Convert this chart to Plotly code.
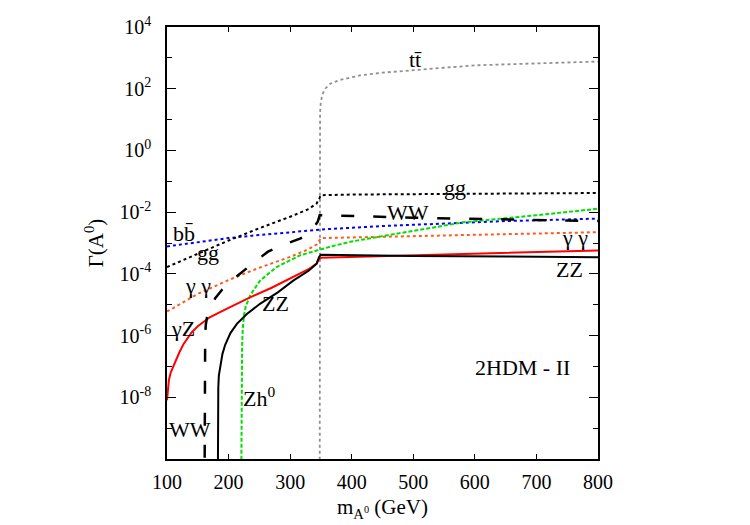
import plotly.graph_objects as go

# ---- data (log10 of width) ----
bb_x = [100, 150, 200, 250, 300, 347.5, 360, 450, 550, 650, 800]
bb_y = [-3.11, -2.97, -2.84, -2.74, -2.65, -2.57, -2.55, -2.45, -2.37, -2.29, -2.21]

gg_x = [100, 150, 200, 250, 300, 330, 343, 347.5, 350, 400, 600, 800]
gg_y = [-3.78, -3.35, -2.92, -2.52, -2.15, -1.9, -1.72, -1.55, -1.45, -1.43, -1.40, -1.38]

aa_x = [100, 150, 200, 250, 300, 330, 343, 347, 350, 400, 500, 650, 800]
aa_y = [-5.22, -4.65, -4.2, -3.8, -3.45, -3.2, -3.05, -2.92, -2.84, -2.82, -2.78, -2.72, -2.65]

ww_x = [161.0, 161.3, 161.6, 162, 163, 165, 170, 178, 190, 211, 240, 264, 290, 317, 335, 345, 348, 360, 500, 650, 800]
ww_y = [-11, -7.5, -6.5, -6.0, -5.65, -5.4, -5.1, -4.8, -4.5, -4.12, -3.65, -3.28, -3.05, -2.85, -2.6, -2.3, -2.1, -2.1, -2.18, -2.24, -2.29]

gz_x = [100, 101, 103, 106, 111, 120, 127, 140, 150, 170, 200, 235, 270, 305, 330, 343, 347, 350, 500, 650, 800]
gz_y = [-8.1, -7.75, -7.45, -7.2, -6.95, -6.55, -6.27, -5.9, -5.7, -5.4, -5.1, -4.76, -4.45, -4.11, -3.85, -3.67, -3.52, -3.48, -3.40, -3.32, -3.24]

zz_x = [182.5, 182.8, 183.3, 184.2, 186.5, 190, 194.5, 203, 213.5, 229.7, 251, 280, 305, 330, 343, 347, 350, 400, 500, 650, 800]
zz_y = [-11, -8.3, -7.7, -7.3, -6.95, -6.6, -6.3, -5.92, -5.62, -5.3, -4.97, -4.6, -4.22, -3.9, -3.67, -3.45, -3.38, -3.40, -3.42, -3.44, -3.46]

zh_x = [220.5, 220.8, 221.3, 222, 223, 225, 228, 235, 251, 278, 316, 343, 365, 400, 446, 500, 581, 700, 800]
zh_y = [-11, -8.0, -7.0, -6.3, -5.8, -5.35, -5.05, -4.7, -4.22, -3.78, -3.4, -3.24, -3.12, -2.95, -2.79, -2.6, -2.33, -2.1, -1.89]

tt_x = [348, 348.2, 348.6, 349.5, 352, 357, 365, 380, 413, 450, 494, 550, 603, 700, 800]
tt_y = [-11, 0.5, 1.2, 1.5, 1.8, 2.0, 2.16, 2.28, 2.43, 2.52, 2.6, 2.68, 2.76, 2.83, 2.88]

# labels: text, x, log10 y
lab_text = ["tt\u0304", "gg", "WW", "\u03b3 \u03b3", "ZZ", "bb\u0304", "gg",
            "\u03b3 \u03b3", "\u03b3Z", "ZZ", "Zh<sup>0</sup>", "WW", "2HDM - II"]
lab_x = [503, 567, 491, 762, 754, 128, 167, 151, 126.5, 276, 250, 138, 678]
lab_y = [2.95, -1.2, -2.0, -2.82, -3.85, -2.7, -3.3, -4.38, -5.78, -4.97, -8.0, -9.05, -7.03]

ytick_major = [-8, -6, -4, -2, 0, 2, 4]
ytick_minor = [-9, -7, -5, -3, -1, 1, 3]
xtick_vals = [100, 200, 300, 400, 500, 600, 700, 800]

fig = go.Figure()

def add(x, y, color, width, dash):
    fig.add_trace(go.Scatter(x=x, y=[10 ** v for v in y], mode="lines",
                             line=dict(color=color, width=width, dash=dash),
                             showlegend=False, hoverinfo="skip"))

add(tt_x, tt_y, "#909090", 1.8, "dot")
add(bb_x, bb_y, "#0000ff", 2, "dot")
add(gg_x, gg_y, "#000000", 2, "dot")
add(aa_x, aa_y, "#ff5a1e", 2, "dot")
add(zh_x, zh_y, "#00e000", 2, "4px,2px")
add(gz_x, gz_y, "#ff0000", 2, "solid")
add(zz_x, zz_y, "#000000", 2, "solid")
add(ww_x, ww_y, "#000000", 2.5, "13px,19px")

serif = "Liberation Serif"
for t, x, y in zip(lab_text, lab_x, lab_y):
    fig.add_annotation(x=x, y=y, xref="x", yref="y", text=t, showarrow=False,
                       font=dict(family=serif, size=22, color="black"))

# page body has an 8px default margin, so margins are offset by 8px
fig.update_layout(
    width=750, height=525,
    margin=dict(l=159, r=160, t=19, b=74, autoexpand=False),
    plot_bgcolor="white", paper_bgcolor="white",
    font=dict(family=serif, size=20, color="black"),
    xaxis=dict(range=[100, 800], tickvals=xtick_vals,
               ticks="inside", ticklen=5, tickcolor="black", mirror="ticks",
               showline=True, linecolor="black", linewidth=1.5, showgrid=False, zeroline=False,
               automargin=False, ticklabelstandoff=4,
               title=dict(text="m<sub>A<sup>0</sup></sub> (GeV)", standoff=8, font=dict(size=21)),
               tickfont=dict(size=20)),
    yaxis=dict(type="log", range=[-10, 4], tickvals=[10 ** e for e in ytick_major],
               ticktext=["10<sup>%d</sup>" % e for e in ytick_major],
               ticks="inside", ticklen=9, tickcolor="black", mirror="ticks",
               minor=dict(tickvals=[10 ** e for e in ytick_minor], ticks="inside", ticklen=5, tickcolor="black"),
               showline=True, linecolor="black", linewidth=1.5, showgrid=False, zeroline=False,
               automargin=False, ticklabelstandoff=10,
               title=dict(text="\u0393(A<sup>0</sup>)", standoff=10, font=dict(size=21)),
               tickfont=dict(size=20)),
)

fig.write_html("out.html")
